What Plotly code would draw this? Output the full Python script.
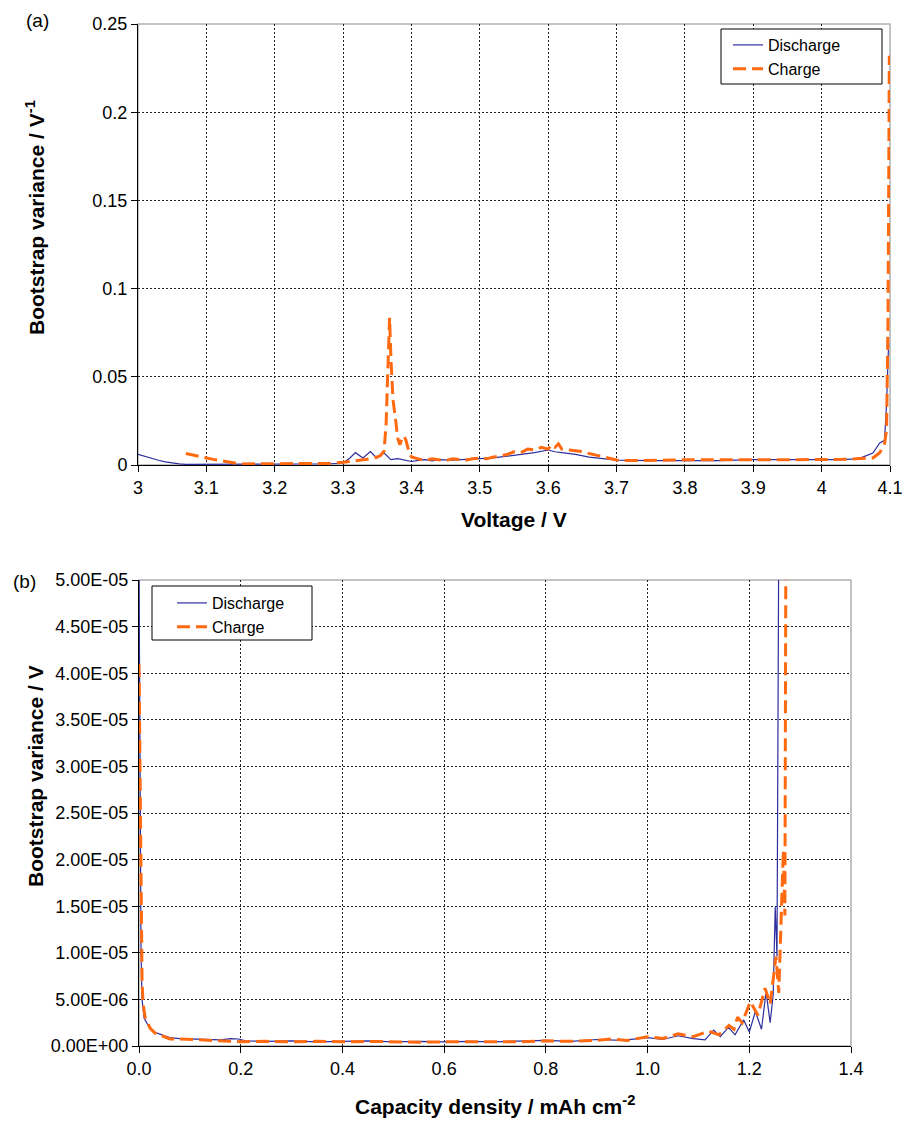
import plotly.graph_objects as go

W, H = 908, 1125

# ---------------- Panel (a): bootstrap variance vs voltage ----------------
a_dis_v = [3.00, 3.01, 3.02, 3.03, 3.04, 3.05, 3.06, 3.07, 3.08, 3.10, 3.12, 3.15,
           3.18, 3.20, 3.22, 3.25, 3.28, 3.30, 3.31, 3.318, 3.329, 3.34, 3.349, 3.36,
           3.37, 3.38, 3.39, 3.40, 3.41, 3.42, 3.43, 3.44, 3.46, 3.48, 3.50, 3.52,
           3.54, 3.56, 3.58, 3.60, 3.61, 3.62, 3.64, 3.66, 3.68, 3.70, 3.75, 3.80,
           3.85, 3.90, 3.95, 4.00, 4.03, 4.05, 4.06, 4.075, 4.085, 4.092, 4.095, 4.098]
a_dis_y = [0.0060, 0.0048, 0.0037, 0.0027, 0.0018, 0.0011, 0.0006, 0.0004, 0.0004, 0.0005,
           0.0006, 0.0005, 0.0005, 0.0006, 0.0005, 0.0006, 0.0007, 0.0010, 0.0040, 0.0070,
           0.0040, 0.0076, 0.0040, 0.0068, 0.0030, 0.0036, 0.0028, 0.0020, 0.0026, 0.0030,
           0.0024, 0.0030, 0.0028, 0.0033, 0.0035, 0.0040, 0.0050, 0.0060, 0.0070, 0.0085,
           0.0075, 0.0070, 0.0060, 0.0045, 0.0035, 0.0028, 0.0025, 0.0025, 0.0025, 0.0030,
           0.0030, 0.0030, 0.0030, 0.0035, 0.0045, 0.0068, 0.0125, 0.0140, 0.0350, 0.0690]

a_chg_v = [3.07, 3.08, 3.09, 3.10, 3.11, 3.12, 3.13, 3.14, 3.15, 3.17, 3.20, 3.22,
           3.25, 3.28, 3.30, 3.32, 3.34, 3.35, 3.355, 3.36, 3.363, 3.366, 3.368, 3.370,
           3.373, 3.377, 3.380, 3.383, 3.386, 3.389, 3.392, 3.396, 3.40, 3.41, 3.42, 3.43,
           3.44, 3.45, 3.46, 3.47, 3.48, 3.49, 3.50, 3.51, 3.52, 3.53, 3.54, 3.55,
           3.56, 3.57, 3.58, 3.59, 3.60, 3.605, 3.61, 3.615, 3.62, 3.63, 3.64, 3.65,
           3.66, 3.67, 3.68, 3.69, 3.70, 3.72, 3.75, 3.78, 3.80, 3.85, 3.90, 3.95,
           4.00, 4.03, 4.05, 4.075, 4.085, 4.092, 4.095, 4.097, 4.098, 4.099]
a_chg_y = [0.0065, 0.0058, 0.0050, 0.0040, 0.0032, 0.0025, 0.0018, 0.0010, 0.0006, 0.0007,
           0.0008, 0.0007, 0.0008, 0.0009, 0.0015, 0.0025, 0.0035, 0.0045, 0.0055, 0.0080,
           0.0240, 0.0600, 0.0835, 0.0600, 0.0370, 0.0250, 0.0150, 0.0114, 0.0150, 0.0165,
           0.0140, 0.0080, 0.0045, 0.0035, 0.0025, 0.0035, 0.0030, 0.0025, 0.0035, 0.0030,
           0.0028, 0.0035, 0.0040, 0.0035, 0.0045, 0.0050, 0.0060, 0.0075, 0.0070, 0.0090,
           0.0085, 0.0100, 0.0090, 0.0115, 0.0100, 0.0120, 0.0090, 0.0085, 0.0080, 0.0076,
           0.0065, 0.0055, 0.0044, 0.0035, 0.0028, 0.0025, 0.0025, 0.0028, 0.0030, 0.0028,
           0.0030, 0.0030, 0.0030, 0.0032, 0.0035, 0.0040, 0.0070, 0.0120, 0.0200, 0.0800,
           0.1500, 0.2320]

# ---------------- Panel (b): bootstrap variance vs capacity density ----------------
b_dis_c = [0.000, 0.002, 0.004, 0.006, 0.010, 0.020, 0.030, 0.045, 0.060, 0.080, 0.100,
           0.130, 0.160, 0.180, 0.195, 0.210, 0.25, 0.30, 0.35, 0.40, 0.45, 0.50, 0.55,
           0.60, 0.65, 0.70, 0.75, 0.80, 0.85, 0.90, 0.95, 1.00, 1.03, 1.06, 1.09, 1.113,
           1.13, 1.143, 1.159, 1.172, 1.189, 1.200, 1.212, 1.224, 1.233, 1.241, 1.247,
           1.251, 1.2545, 1.256, 1.258]
b_dis_y = [5.2e-5, 2.5e-5, 1.0e-5, 5.0e-6, 3.0e-6, 2.0e-6, 1.5e-6, 1.2e-6, 0.9e-6, 0.8e-6,
           0.75e-6, 0.70e-6, 0.65e-6, 0.80e-6, 0.75e-6, 0.55e-6, 0.5e-6, 0.55e-6, 0.45e-6,
           0.5e-6, 0.55e-6, 0.45e-6, 0.5e-6, 0.45e-6, 0.5e-6, 0.45e-6, 0.5e-6, 0.6e-6, 0.5e-6,
           0.7e-6, 0.6e-6, 0.9e-6, 0.7e-6, 1.1e-6, 0.8e-6, 0.65e-6, 1.7e-6, 1.0e-6, 2.0e-6,
           1.2e-6, 2.8e-6, 1.5e-6, 3.7e-6, 1.8e-6, 5.8e-6, 2.5e-6, 5.5e-6, 1.49e-5, 9.6e-6,
           3.0e-5, 5.5e-5]

b_chg_c = [0.000, 0.002, 0.004, 0.006, 0.008, 0.012, 0.022, 0.035, 0.045, 0.061, 0.08,
           0.10, 0.13, 0.16, 0.20, 0.25, 0.30, 0.35, 0.40, 0.45, 0.50, 0.55, 0.60, 0.65,
           0.70, 0.75, 0.80, 0.85, 0.90, 0.93, 0.96, 1.00, 1.03, 1.06, 1.09, 1.12, 1.14,
           1.16, 1.17, 1.177, 1.186, 1.202, 1.217, 1.231, 1.241, 1.2525, 1.258, 1.264,
           1.267, 1.270, 1.271, 1.272]
b_chg_y = [4.1e-5, 3.0e-5, 1.5e-5, 7.0e-6, 4.5e-6, 3.1e-6, 1.9e-6, 1.2e-6, 1.1e-6, 0.75e-6,
           0.75e-6, 0.7e-6, 0.65e-6, 0.6e-6, 0.46e-6, 0.5e-6, 0.45e-6, 0.5e-6, 0.45e-6, 0.5e-6,
           0.45e-6, 0.4e-6, 0.45e-6, 0.45e-6, 0.5e-6, 0.45e-6, 0.55e-6, 0.5e-6, 0.6e-6,
           0.75e-6, 0.6e-6, 1.0e-6, 0.8e-6, 1.3e-6, 1.0e-6, 1.6e-6, 1.2e-6, 2.2e-6, 1.8e-6,
           3.1e-6, 2.5e-6, 4.75e-6, 3.3e-6, 6.2e-6, 4.5e-6, 9.6e-6, 5.7e-6, 1.6e-5, 2.1e-5,
           1.4e-5, 3.0e-5, 5.5e-5]

# ---------------- Tick labels ----------------
a_xticks = [3.0, 3.1, 3.2, 3.3, 3.4, 3.5, 3.6, 3.7, 3.8, 3.9, 4.0, 4.1]
a_xticktext = ["3", "3.1", "3.2", "3.3", "3.4", "3.5", "3.6", "3.7", "3.8", "3.9", "4", "4.1"]
a_yticks = [0, 0.05, 0.1, 0.15, 0.2, 0.25]
a_yticktext = ["0", "0.05", "0.1", "0.15", "0.2", "0.25"]
b_xticks = [0.0, 0.2, 0.4, 0.6, 0.8, 1.0, 1.2, 1.4]
b_xticktext = ["0.0", "0.2", "0.4", "0.6", "0.8", "1.0", "1.2", "1.4"]
b_yticks = [0, 5e-6, 1e-5, 1.5e-5, 2e-5, 2.5e-5, 3e-5, 3.5e-5, 4e-5, 4.5e-5, 5e-5]
b_yticktext = ["0.00E+00", "5.00E-06", "1.00E-05", "1.50E-05", "2.00E-05", "2.50E-05",
               "3.00E-05", "3.50E-05", "4.00E-05", "4.50E-05", "5.00E-05"]

DIS_COLOR = "#2e2e9e"
CHG_COLOR = "#ff6a10"
FONT = "Liberation Sans, Arial, sans-serif"


def px(xp):
    return xp / W


def py(yp):
    return 1 - yp / H


fig = go.Figure()
fig.add_trace(go.Scatter(x=a_dis_v, y=a_dis_y, mode="lines", name="Discharge",
                         line=dict(color=DIS_COLOR, width=1.2), xaxis="x", yaxis="y",
                         legend="legend"))
fig.add_trace(go.Scatter(x=a_chg_v, y=a_chg_y, mode="lines", name="Charge",
                         line=dict(color=CHG_COLOR, width=3, dash="13px,6px"),
                         xaxis="x", yaxis="y", legend="legend"))
fig.add_trace(go.Scatter(x=b_dis_c, y=b_dis_y, mode="lines", name="Discharge",
                         line=dict(color=DIS_COLOR, width=1.2), xaxis="x2", yaxis="y2",
                         legend="legend2"))
fig.add_trace(go.Scatter(x=b_chg_c, y=b_chg_y, mode="lines", name="Charge",
                         line=dict(color=CHG_COLOR, width=3, dash="13px,6px"),
                         xaxis="x2", yaxis="y2", legend="legend2"))

axis_common = dict(showline=True, linecolor="black", linewidth=1, ticks="outside",
                   ticklen=6, tickcolor="black", tickwidth=1, showgrid=True,
                   gridcolor="#222222", gridwidth=1, griddash="2px,2px", zeroline=False,
                   tickfont=dict(family=FONT, size=18, color="black"), automargin=False,
                   mirror=False, fixedrange=True)

fig.update_layout(
    width=W, height=H,
    margin=dict(l=0, r=0, t=0, b=0),
    paper_bgcolor="white", plot_bgcolor="white",
    font=dict(family=FONT, color="black"),
    xaxis=dict(domain=[px(138), px(890)], range=[3.0, 4.1], tickmode="array",
               tickvals=a_xticks, ticktext=a_xticktext, anchor="y", **axis_common),
    yaxis=dict(domain=[py(465), py(24)], range=[0, 0.25], tickmode="array",
               tickvals=a_yticks, ticktext=a_yticktext, anchor="x", **axis_common),
    xaxis2=dict(domain=[px(139), px(851)], range=[0, 1.4], tickmode="array",
                tickvals=b_xticks, ticktext=b_xticktext, anchor="y2", **axis_common),
    yaxis2=dict(domain=[py(1046), py(580)], range=[0, 5e-5], tickmode="array",
                tickvals=b_yticks, ticktext=b_yticktext, anchor="x2", **axis_common),
    legend=dict(x=px(728), y=py(28), xanchor="left", yanchor="top",
                bgcolor="rgba(0,0,0,0)", borderwidth=0,
                font=dict(family=FONT, size=16, color="black"), tracegroupgap=0),
    legend2=dict(x=px(172), y=py(586), xanchor="left", yanchor="top",
                 bgcolor="rgba(0,0,0,0)", borderwidth=0,
                 font=dict(family=FONT, size=16, color="black"), tracegroupgap=0),
    showlegend=True,
)

shapes = []
# light grey plot frames (top/right)
for xr, yr in (("x domain", "y domain"), ("x2 domain", "y2 domain")):
    shapes.append(dict(type="rect", xref=xr, yref=yr, x0=0, x1=1, y0=0, y1=1,
                       line=dict(color="#b0b0b0", width=1.5), layer="below"))
# legend boxes
shapes.append(dict(type="rect", xref="paper", yref="paper", x0=px(721), x1=px(882),
                   y0=py(84), y1=py(29), line=dict(color="black", width=1),
                   fillcolor="white", layer="above"))
shapes.append(dict(type="rect", xref="paper", yref="paper", x0=px(152), x1=px(312),
                   y0=py(640), y1=py(586), line=dict(color="black", width=1),
                   fillcolor="white", layer="above"))
fig.update_layout(shapes=shapes)

title_font = dict(family=FONT, size=21, color="black")
annotations = [
    dict(text="(a)", x=px(37), y=py(20), xref="paper", yref="paper", showarrow=False,
         xanchor="center", yanchor="middle", font=dict(family=FONT, size=19, color="black")),
    dict(text="(b)", x=px(24), y=py(581), xref="paper", yref="paper", showarrow=False,
         xanchor="center", yanchor="middle", font=dict(family=FONT, size=19, color="black")),
    dict(text="<b>Voltage / V</b>", x=px(514), y=py(519), xref="paper", yref="paper",
         showarrow=False, xanchor="center", yanchor="middle", font=title_font),
    dict(text="<b>Capacity density / mAh cm<sup>-2</sup></b>", x=px(495), y=py(1105),
         xref="paper", yref="paper", showarrow=False, xanchor="center", yanchor="middle",
         font=title_font),
    dict(text="<b>Bootstrap variance / V<sup>-1</sup></b>", x=px(35), y=py(218),
         xref="paper", yref="paper", showarrow=False, xanchor="center", yanchor="middle",
         textangle=-90, font=title_font),
    dict(text="<b>Bootstrap variance / V</b>", x=px(35), y=py(776),
         xref="paper", yref="paper", showarrow=False, xanchor="center", yanchor="middle",
         textangle=-90, font=title_font),
]
fig.update_layout(annotations=annotations)

fig.write_html("out.html")
